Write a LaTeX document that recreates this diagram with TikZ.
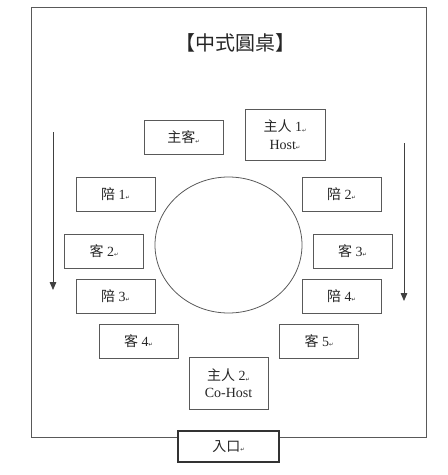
\documentclass[tikz,border=0pt]{standalone}
\usepackage{fontspec}
\setmainfont{Liberation Serif}
\newfontfamily\cjk{Noto Sans CJK TC}
\newfontfamily\dv{DejaVu Sans}
\usetikzlibrary{arrows.meta,shapes.geometric}
\newcommand\parmark{{\dv\fontsize{4}{4}\selectfont\raisebox{-0.2ex}{↵}}}
\begin{document}
\begin{tikzpicture}[x=0.75pt,y=-0.75pt,
  line/.style={draw=black!65, line width=0.6pt},
  seat/.style={line, minimum width=59.25pt, minimum height=25.5pt, inner sep=0pt,
    font=\fontsize{10.5}{13}\selectfont, text=black!85, align=center},
  tallseat/.style={seat, minimum height=38.5pt},
  flow/.style={draw=black!75, line width=0.6pt, -{Triangle[length=6pt,width=5pt]}}]
\useasboundingbox (0,0) rectangle (448,475);
\draw[line] (31,7) rectangle (426,437);
\node[font=\fontsize{15}{18}\selectfont\cjk, text=black!85] (title) at (235,43) {【中式圓桌】};
\node[ellipse, line, minimum width=110.25pt, minimum height=102pt, inner sep=0pt] (table) at (228.5,245) {};
\node[seat] (zhuke) at (183.5,137.5) {{\cjk 主客}\parmark};
\node[tallseat, minimum width=60pt] (host1) at (285,135) {{\cjk 主人} 1\parmark\\Host\parmark};
\node[seat] (pei1) at (115.5,194) {{\cjk 陪} 1\parmark};
\node[seat] (pei2) at (341.5,194) {{\cjk 陪} 2\parmark};
\node[seat] (ke2) at (104,251) {{\cjk 客} 2\parmark};
\node[seat] (ke3) at (352.5,251) {{\cjk 客} 3\parmark};
\node[seat] (pei3) at (115.5,296) {{\cjk 陪} 3\parmark};
\node[seat] (pei4) at (341.5,296) {{\cjk 陪} 4\parmark};
\node[seat] (ke4) at (138.5,341) {{\cjk 客} 4\parmark};
\node[seat] (ke5) at (319,341) {{\cjk 客} 5\parmark};
\node[tallseat] (host2) at (228.5,383.5) {{\cjk 主人} 2\parmark\\Co-Host};
\node[seat, fill=white, draw=black!80, line width=0.8pt, minimum width=75.75pt, minimum height=23.25pt] (entry) at (228.5,446.5) {{\cjk 入口}\parmark};
\coordinate (la) at (53,132);
\coordinate (lb) at (53,290);
\coordinate (ra) at (404,143);
\coordinate (rb) at (404,301);
\draw[flow] (la) -- (lb);
\draw[flow] (ra) -- (rb);
\end{tikzpicture}
\end{document}
